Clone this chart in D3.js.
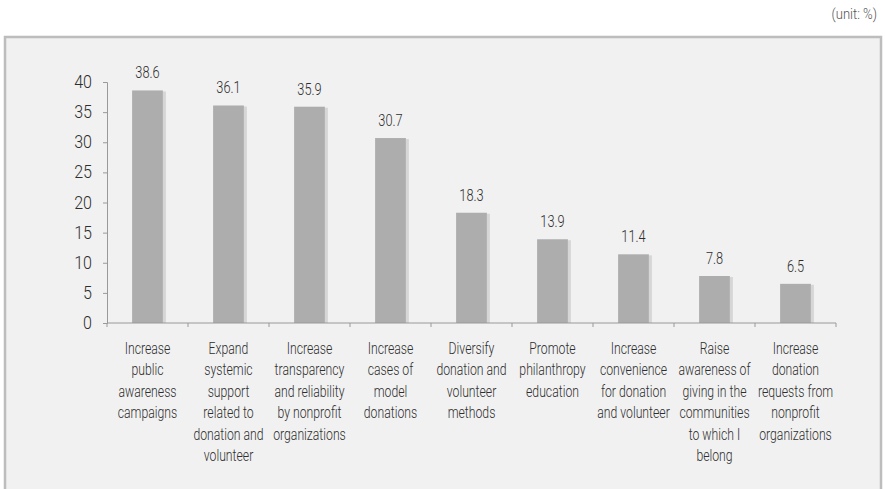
<!DOCTYPE html>
<html><head><meta charset="utf-8">
<script src="https://cdn.jsdelivr.net/npm/d3@7"></script>
<style>
html,body{margin:0;padding:0;background:#fff;}
svg{display:block;}
text{font-family:Roboto,"DejaVu Sans",sans-serif;font-weight:300;fill:#2e2e2e;}
</style></head>
<body>
<svg id="chart" width="885" height="489"></svg>
<script>
const categories = [
  ["Increase","public","awareness","campaigns"],
  ["Expand","systemic","support","related to","donation and","volunteer"],
  ["Increase","transparency","and reliability","by nonprofit","organizations"],
  ["Increase","cases of","model","donations"],
  ["Diversify","donation and","volunteer","methods"],
  ["Promote","philanthropy","education"],
  ["Increase","convenience","for donation","and volunteer"],
  ["Raise","awareness of","giving in the","communities","to which I","belong"],
  ["Increase","donation","requests from","nonprofit","organizations"]
];
const values = [38.6, 36.1, 35.9, 30.7, 18.3, 13.9, 11.4, 7.8, 6.5];
const yTicks = [0, 5, 10, 15, 20, 25, 30, 35, 40];
const unitLabel = "(unit: %)";

const svg = d3.select("#chart");
function ctext(parent, x, y, sx, size, anchor, str){
  return parent.append("g").attr("transform",`translate(${x},${y}) scale(${sx},1)`)
    .append("text").attr("text-anchor",anchor).attr("font-size",size).text(str);
}
// outer box
svg.append("rect").attr("x",5).attr("y",37).attr("width",876).attr("height",470)
  .attr("fill","#f1f1f1").attr("stroke","#bdbdbd").attr("stroke-width",2.5);
ctext(svg, 877, 19, 0.9, 14.5, "end", unitLabel).style("fill","#555");

const x0 = 107, x1 = 836, yTop = 82, yBot = 323;
const x = d3.scaleBand().domain(d3.range(values.length)).range([x0,x1]).paddingInner(0.62).paddingOuter(0.31);
const xb = d3.scaleBand().domain(d3.range(values.length)).range([x0,x1]);
const y = d3.scaleLinear().domain([0,40]).range([yBot,yTop]);

// shadows
svg.append("g").selectAll("rect").data(values).join("rect")
  .attr("x",(d,i)=>x(i)+x.bandwidth()).attr("width",3)
  .attr("y",d=>y(d)+1).attr("height",d=>yBot-y(d)-1)
  .attr("fill","#d6d6d6");
// bars
svg.append("g").selectAll("rect").data(values).join("rect")
  .attr("x",(d,i)=>x(i)).attr("width",x.bandwidth())
  .attr("y",d=>y(d)).attr("height",d=>yBot-y(d))
  .attr("fill","#adadad");
// value labels
const vl = svg.append("g");
values.forEach((d,i)=>ctext(vl, x(i)+x.bandwidth()/2, y(d)-12, 0.8, 16, "middle", d.toFixed(1)));

// y axis
const ya = svg.append("g").attr("transform",`translate(${x0},0)`)
  .call(d3.axisLeft(y).tickValues(yTicks).tickSize(4).tickPadding(10).tickFormat(()=>""));
ya.select(".domain").attr("stroke","#999");
ya.selectAll(".tick line").attr("stroke","#999");
yTicks.forEach(t=>ctext(svg, 92, y(t)+6, 0.92, 17.5, "end", String(t)));

// x axis
const xa = svg.append("g").attr("transform",`translate(0,${yBot})`);
xa.append("line").attr("x1",x0).attr("x2",x1).attr("y1",0).attr("y2",0).attr("stroke","#999");
xa.selectAll("line.t").data(d3.range(values.length+1)).join("line").attr("class","t")
  .attr("x1",i=>x0+i*xb.step()).attr("x2",i=>x0+i*xb.step()).attr("y1",0).attr("y2",4).attr("stroke","#999");

// category labels
const cl = svg.append("g");
categories.forEach((lines,i)=>{
  const cx = xb(i)+xb.bandwidth()/2;
  const t = cl.append("g").attr("transform",`translate(${cx},354) scale(0.72,1)`)
    .append("text").attr("text-anchor","middle").attr("font-size",17);
  lines.forEach((ln,j)=>{
    t.append("tspan").attr("x",0).attr("dy",j===0?0:21.5).text(ln);
  });
});
</script>
</body></html>
